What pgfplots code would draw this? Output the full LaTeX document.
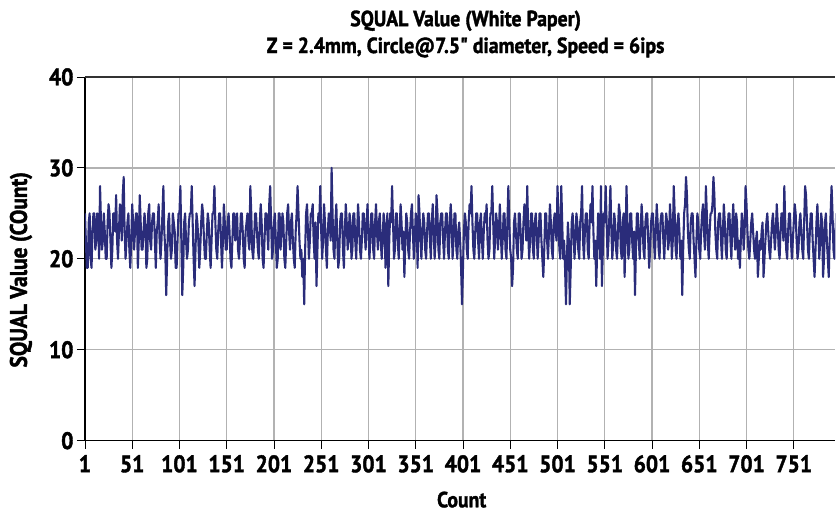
\documentclass[border=0pt]{standalone}
\usepackage{fontspec}
\setmainfont{PT Sans}[
  FakeStretch=0.9,
  FakeBold=1.6,
  Ligatures=TeXOff,
  BoldFont={PT Sans Bold},
  BoldFeatures={FakeStretch=0.9, FakeBold=1.6}]
\usepackage{pgfplots}
\pgfplotsset{compat=1.18}
\definecolor{squal}{RGB}{42,44,122}
\definecolor{gridgray}{RGB}{178,178,178}

\begin{document}
\begin{tikzpicture}
\begin{axis}[
    scale only axis,
    width=751bp, height=364bp,
    xmin=1, xmax=795, ymin=0, ymax=40,
    xtick={1,51,...,751},
    ytick={0,10,...,40},
    axis x line=bottom, axis y line=left,
    axis line style={-, black, line width=1.3pt},
    tick align=outside,
    major tick length=8bp,
    tick style={black, line width=0.8pt},
    grid=major,
    major grid style={gridgray, line width=1.3pt},
    /pgf/number format/assume math mode=true,
    ticklabel style={font=\bfseries\fontsize{24}{26}\selectfont},
    xticklabel style={yshift=-3bp},
    clip=true,
]
% top border line at 40
\draw[black!80, line width=1.3pt] (rel axis cs:0,1) -- (rel axis cs:1,1);

% SQUAL readings, one per count
\addplot[squal, line width=2.1pt, line join=round] coordinates {
(1,25)(2,22)(3,19)(4,19)(5,24)(6,25)(7,20)(8,19)(9,23)(10,25)(11,25)(12,21)(13,22)(14,25)(15,24)(16,20)(17,28)(18,24)(19,21)(20,22)
(21,25)(22,23)(23,20)(24,20)(25,24)(26,26)(27,25)(28,22)(29,19)(30,21)(31,25)(32,25)(33,23)(34,27)(35,22)(36,20)(37,23)(38,26)(39,25)(40,22)
(41,27)(42,29)(43,23)(44,20)(45,22)(46,24)(47,25)(48,21)(49,19)(50,22)(51,26)(52,24)(53,21)(54,23)(55,25)(56,25)(57,19)(58,22)(59,27)(60,24)
(61,21)(62,21)(63,23)(64,25)(65,24)(66,19)(67,20)(68,25)(69,26)(70,22)(71,21)(72,24)(73,25)(74,25)(75,22)(76,19)(77,23)(78,24)(79,26)(80,22)
(81,20)(82,22)(83,25)(84,28)(85,23)(86,21)(87,16)(88,20)(89,24)(90,25)(91,22)(92,20)(93,21)(94,25)(95,24)(96,23)(97,19)(98,19)(99,22)(100,25)
(101,25)(102,28)(103,22)(104,16)(105,19)(106,24)(107,25)(108,22)(109,20)(110,21)(111,24)(112,25)(113,25)(114,28)(115,24)(116,20)(117,17)(118,21)(119,25)(120,24)
(121,22)(122,19)(123,21)(124,24)(125,26)(126,25)(127,22)(128,20)(129,20)(130,23)(131,25)(132,24)(133,21)(134,19)(135,22)(136,25)(137,25)(138,28)(139,24)(140,21)
(141,20)(142,23)(143,25)(144,25)(145,22)(146,19)(147,22)(148,26)(149,24)(150,21)(151,21)(152,24)(153,25)(154,23)(155,20)(156,19)(157,22)(158,25)(159,25)(160,22)
(161,24)(162,25)(163,21)(164,20)(165,22)(166,25)(167,25)(168,23)(169,20)(170,19)(171,23)(172,24)(173,25)(174,22)(175,21)(176,28)(177,25)(178,21)(179,20)(180,22)
(181,25)(182,25)(183,23)(184,21)(185,20)(186,24)(187,26)(188,24)(189,20)(190,19)(191,22)(192,25)(193,25)(194,23)(195,21)(196,26)(197,28)(198,24)(199,20)(200,21)
(201,24)(202,25)(203,22)(204,19)(205,20)(206,25)(207,25)(208,21)(209,23)(210,25)(211,24)(212,20)(213,19)(214,22)(215,25)(216,26)(217,23)(218,21)(219,24)(220,25)
(221,22)(222,20)(223,19)(224,23)(225,25)(226,28)(227,25)(228,22)(229,20)(230,21)(231,18)(232,20)(233,15)(234,21)(235,25)(236,26)(237,23)(238,20)(239,22)(240,25)
(241,25)(242,26)(243,22)(244,20)(245,24)(246,17)(247,21)(248,25)(249,24)(250,28)(251,23)(252,20)(253,22)(254,26)(255,24)(256,21)(257,19)(258,23)(259,25)(260,24)
(261,22)(262,30)(263,25)(264,21)(265,20)(266,24)(267,26)(268,22)(269,19)(270,20)(271,24)(272,25)(273,25)(274,21)(275,19)(276,23)(277,26)(278,24)(279,21)(280,22)
(281,25)(282,24)(283,20)(284,21)(285,25)(286,25)(287,22)(288,20)(289,23)(290,26)(291,24)(292,21)(293,20)(294,22)(295,25)(296,25)(297,23)(298,21)(299,24)(300,26)
(301,23)(302,20)(303,22)(304,25)(305,25)(306,21)(307,20)(308,24)(309,26)(310,23)(311,21)(312,24)(313,25)(314,22)(315,20)(316,22)(317,25)(318,24)(319,19)(320,22)
(321,25)(322,17)(323,22)(324,25)(325,24)(326,28)(327,24)(328,20)(329,21)(330,25)(331,25)(332,22)(333,20)(334,23)(335,26)(336,24)(337,21)(338,23)(339,18)(340,22)
(341,25)(342,24)(343,21)(344,20)(345,23)(346,25)(347,26)(348,23)(349,20)(350,22)(351,25)(352,24)(353,19)(354,27)(355,25)(356,22)(357,20)(358,23)(359,25)(360,24)
(361,21)(362,20)(363,23)(364,25)(365,25)(366,22)(367,20)(368,24)(369,26)(370,23)(371,20)(372,22)(373,27)(374,25)(375,21)(376,20)(377,24)(378,25)(379,25)(380,22)
(381,20)(382,23)(383,25)(384,25)(385,21)(386,20)(387,24)(388,26)(389,24)(390,20)(391,22)(392,25)(393,25)(394,21)(395,20)(396,23)(397,24)(398,22)(399,19)(400,15)
(401,19)(402,23)(403,25)(404,24)(405,21)(406,20)(407,24)(408,26)(409,25)(410,28)(411,24)(412,21)(413,20)(414,23)(415,25)(416,25)(417,22)(418,20)(419,24)(420,25)
(421,22)(422,20)(423,23)(424,25)(425,24)(426,26)(427,22)(428,20)(429,21)(430,25)(431,25)(432,28)(433,24)(434,20)(435,22)(436,25)(437,24)(438,21)(439,23)(440,26)
(441,23)(442,20)(443,22)(444,25)(445,25)(446,21)(447,20)(448,24)(449,28)(450,24)(451,21)(452,20)(453,17)(454,19)(455,24)(456,25)(457,23)(458,21)(459,20)(460,25)
(461,25)(462,23)(463,20)(464,21)(465,24)(466,26)(467,25)(468,22)(469,28)(470,23)(471,20)(472,22)(473,25)(474,25)(475,21)(476,20)(477,24)(478,25)(479,23)(480,20)
(481,22)(482,25)(483,25)(484,22)(485,20)(486,18)(487,21)(488,25)(489,25)(490,22)(491,20)(492,23)(493,26)(494,24)(495,21)(496,20)(497,24)(498,25)(499,23)(500,22)
(501,28)(502,25)(503,21)(504,20)(505,28)(506,24)(507,20)(508,22)(509,19)(510,15)(511,20)(512,24)(513,22)(514,15)(515,19)(516,24)(517,25)(518,23)(519,20)(520,22)
(521,25)(522,24)(523,21)(524,20)(525,24)(526,25)(527,28)(528,22)(529,20)(530,23)(531,25)(532,25)(533,21)(534,20)(535,24)(536,26)(537,24)(538,28)(539,23)(540,20)
(541,22)(542,17)(543,21)(544,25)(545,24)(546,20)(547,28)(548,17)(549,21)(550,25)(551,24)(552,28)(553,24)(554,20)(555,22)(556,25)(557,28)(558,23)(559,20)(560,22)
(561,25)(562,24)(563,21)(564,20)(565,23)(566,26)(567,25)(568,21)(569,20)(570,24)(571,25)(572,18)(573,22)(574,28)(575,24)(576,20)(577,21)(578,25)(579,25)(580,22)
(581,20)(582,23)(583,16)(584,21)(585,25)(586,25)(587,22)(588,20)(589,23)(590,26)(591,24)(592,21)(593,20)(594,24)(595,25)(596,25)(597,22)(598,19)(599,21)(600,24)
(601,25)(602,25)(603,22)(604,20)(605,23)(606,26)(607,24)(608,21)(609,20)(610,24)(611,25)(612,25)(613,22)(614,20)(615,23)(616,25)(617,24)(618,21)(619,22)(620,26)
(621,24)(622,20)(623,22)(624,28)(625,25)(626,21)(627,20)(628,24)(629,25)(630,23)(631,20)(632,22)(633,16)(634,21)(635,25)(636,26)(637,29)(638,27)(639,23)(640,21)
(641,20)(642,24)(643,25)(644,25)(645,22)(646,20)(647,18)(648,22)(649,25)(650,24)(651,21)(652,20)(653,23)(654,25)(655,26)(656,23)(657,21)(658,28)(659,25)(660,22)
(661,20)(662,23)(663,25)(664,25)(665,26)(666,29)(667,27)(668,23)(669,21)(670,20)(671,24)(672,25)(673,25)(674,22)(675,20)(676,23)(677,26)(678,24)(679,21)(680,20)
(681,23)(682,25)(683,25)(684,22)(685,20)(686,24)(687,26)(688,23)(689,21)(690,25)(691,24)(692,20)(693,22)(694,19)(695,22)(696,25)(697,24)(698,21)(699,23)(700,28)
(701,26)(702,23)(703,21)(704,20)(705,22)(706,24)(707,25)(708,23)(709,21)(710,20)(711,22)(712,23)(713,18)(714,20)(715,22)(716,21)(717,23)(718,24)(719,18)(720,20)
(721,22)(722,24)(723,25)(724,23)(725,21)(726,20)(727,22)(728,24)(729,25)(730,23)(731,21)(732,23)(733,26)(734,24)(735,21)(736,20)(737,23)(738,25)(739,25)(740,22)
(741,28)(742,24)(743,21)(744,20)(745,23)(746,25)(747,25)(748,22)(749,20)(750,22)(751,24)(752,26)(753,25)(754,22)(755,20)(756,21)(757,24)(758,25)(759,23)(760,21)
(761,20)(762,24)(763,28)(764,27)(765,24)(766,21)(767,20)(768,23)(769,25)(770,25)(771,22)(772,20)(773,18)(774,21)(775,24)(776,26)(777,23)(778,20)(779,22)(780,25)
(781,24)(782,18)(783,20)(784,24)(785,25)(786,22)(787,20)(788,18)(789,22)(790,25)(791,28)(792,25)(793,21)(794,20)(795,23)(796,25)(797,25)(798,22)(799,20)(800,24)
};
\end{axis}

% title and axis labels
\node[align=center, font=\bfseries\fontsize{22}{27}\selectfont]
  at ([shift={(381bp,407bp)}]current axis.south west)
  {SQUAL Value (White Paper)\\Z = 2.4mm, Circle@7.5" diameter, Speed = 6ips};
\node[inner sep=0pt, font=\bfseries\fontsize{22}{24}\selectfont]
  at ([shift={(377bp,-59bp)}]current axis.south west) {Count};
\node[rotate=90, font=\bfseries\fontsize{24}{24}\selectfont]
  at ([shift={(-64bp,171bp)}]current axis.south west) {SQUAL Value (COunt)};

% page frame matching the reference size
\path (current axis.south west) +(-85bp,-73bp) rectangle +(751bp,441bp);
\end{tikzpicture}
\end{document}
